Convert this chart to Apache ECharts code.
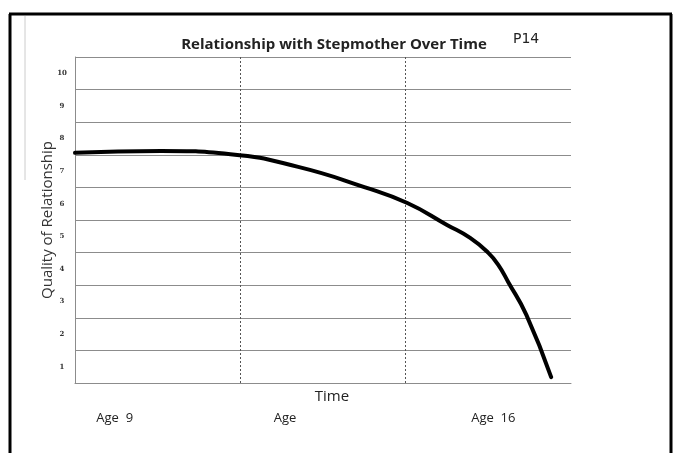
<!DOCTYPE html>
<html>
<head>
<meta charset="utf-8">
<script src="https://cdn.jsdelivr.net/npm/echarts@6/dist/echarts.min.js"></script>
<style>
  html, body { margin: 0; padding: 0; background: #fff; }
  #chart { width: 673px; height: 453px; }
</style>
</head>
<body>
<div id="chart"></div>
<script>
// curve: x in thirds of the time span, y in quality units
const timeX = [0, 0.52, 0.94, 1.35, 1.75, 2.01, 2.25, 2.39, 2.5, 2.56, 2.62, 2.73, 2.88];
const quality = [7.06, 7.12, 7.02, 6.63, 6.01, 5.52, 4.85, 4.45, 3.99, 3.62, 3.1, 2.09, 0.18];

const qualityLabels = ["1", "2", "3", "4", "5", "6", "7", "8", "9", "10"];
const ageTicks = [0.24, 1.27, 2.53];
const ageLabels = ["Age  9", "Age", "Age  16"];

const chart = echarts.init(document.getElementById("chart"));

const gridGray = "#8c8c8c";

const option = {
  backgroundColor: "#fff",
  animation: false,
  title: [
    {
      text: "Relationship with Stepmother Over Time",
      left: 329,
      top: 32,
      textAlign: "center",
      textStyle: { fontFamily: "Open Sans", fontWeight: "bold", fontSize: 15, color: "#222" },
    },
    {
      text: "P14",
      left: 508,
      top: 27,
      textStyle: { fontFamily: "DejaVu Sans", fontWeight: "normal", fontSize: 14, color: "#222" },
    },
  ],
  grid: { left: 75, right: 102, top: 57, bottom: 70 },
  xAxis: [
    {
      type: "value",
      min: 0,
      max: 3,
      interval: 1,
      name: "Time",
      nameLocation: "middle",
      nameGap: 6,
      nameTextStyle: { fontFamily: "Open Sans", fontSize: 15, color: "#222", padding: [0, 0, 0, 18] },
      axisLine: { show: true, lineStyle: { color: gridGray, width: 1 } },
      axisTick: { show: false },
      axisLabel: { show: false },
      splitLine: {
        show: true,
        showMinLine: false,
        showMaxLine: false,
        lineStyle: { color: "#555", type: [2, 2], width: 1 },
      },
    },
    {
      type: "value",
      min: 0,
      max: 3,
      position: "bottom",
      axisLine: { show: false },
      axisTick: { show: false },
      splitLine: { show: false },
      axisLabel: {
        customValues: ageTicks,
        margin: 29,
        fontFamily: "Open Sans",
        fontSize: 13,
        color: "#222",
        formatter: (v) => ageLabels[ageTicks.indexOf(v)] || "",
      },
    },
  ],
  yAxis: [
    {
      type: "value",
      min: 0,
      max: 10,
      interval: 1,
      name: "Quality of Relationship",
      nameLocation: "middle",
      nameGap: 20,
      nameTextStyle: { fontFamily: "Open Sans", fontSize: 15, color: "#333" },
      axisLine: { show: true, lineStyle: { color: gridGray, width: 1 } },
      axisTick: { show: false },
      axisLabel: { show: false },
      splitLine: { show: true, lineStyle: { color: gridGray, width: 1 } },
    },
    {
      type: "category",
      position: "left",
      data: qualityLabels,
      boundaryGap: true,
      axisLine: { show: false },
      axisTick: { show: false },
      splitLine: { show: false },
      axisLabel: {
        align: "center",
        margin: 13,
        fontFamily: "DejaVu Serif",
        fontWeight: "bold",
        fontSize: 7,
        color: "#333",
      },
    },
  ],
  series: [
    {
      type: "line",
      xAxisIndex: 0,
      yAxisIndex: 0,
      data: timeX.map((x, i) => [x, quality[i]]),
      smooth: 0.5,
      showSymbol: false,
      lineStyle: { color: "#000", width: 4, cap: "round", join: "round" },
    },
  ],
  graphic: [
    // scanned page frame
    { type: "line", shape: { x1: 10, y1: 14, x2: 10, y2: 453 }, style: { stroke: "#000", lineWidth: 3 } },
    { type: "line", shape: { x1: 9, y1: 14, x2: 672, y2: 14 }, style: { stroke: "#000", lineWidth: 3 } },
    { type: "line", shape: { x1: 671, y1: 14, x2: 671, y2: 453 }, style: { stroke: "#000", lineWidth: 3 } },
    { type: "line", shape: { x1: 25, y1: 16, x2: 25, y2: 180 }, style: { stroke: "#ccc", lineWidth: 1 } },
  ],
};

chart.setOption(option);
</script>
</body>
</html>
